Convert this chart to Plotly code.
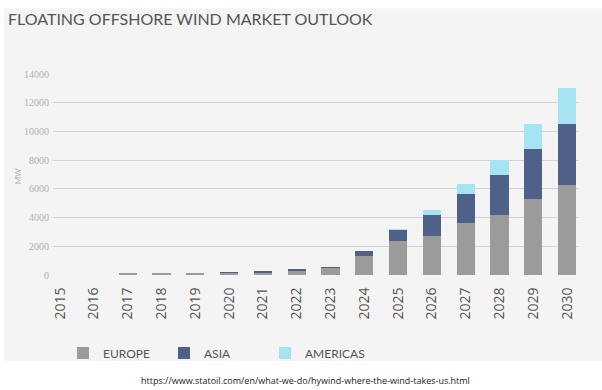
import plotly.graph_objects as go

years = [str(y) for y in range(2015, 2031)]
europe = [0, 0, 120, 120, 120, 170, 200, 300, 500, 1300, 2400, 2700, 3600, 4200, 5300, 6300]
asia = [0, 0, 0, 0, 0, 20, 90, 150, 50, 400, 750, 1450, 2050, 2800, 3500, 4200]
americas = [0, 0, 0, 0, 0, 0, 0, 0, 0, 0, 50, 400, 700, 1000, 1700, 2500]
y_ticks = [0, 2000, 4000, 6000, 8000, 10000, 12000, 14000]

BG = "#f4f4f4"
W, H = 602, 390
L, R, T, B = 53, 23, 74, 114.5
pw, ph = W - L - R, H - T - B

def px_x(x):
    return (x - L) / pw

def px_y(y):
    return (H - B - y) / ph

fig = go.Figure()
fig.add_bar(x=years, y=europe, name="EUROPE", marker=dict(color="#9b9b9b", line=dict(width=0)))
fig.add_bar(x=years, y=asia, name="ASIA", marker=dict(color="#4f6089", line=dict(width=0)))
fig.add_bar(x=years, y=americas, name="AMERICAS", marker=dict(color="#a6e4f4", line=dict(width=0)))

fig.update_layout(
    width=W, height=H,
    margin=dict(l=L, r=R, t=T, b=B, autoexpand=False),
    barmode="stack", bargap=0.46,
    paper_bgcolor="white", plot_bgcolor=BG,
    showlegend=True,
    legend=dict(orientation="h", xref="container", yref="container",
                x=63 / W, y=1 - 353 / H, xanchor="left", yanchor="middle",
                entrywidth=56, entrywidthmode="pixels", bgcolor="rgba(0,0,0,0)",
                font=dict(family="Lato", size=12, color="#555555"), itemwidth=30, traceorder="normal"),
    xaxis=dict(type="category", range=[-0.21, 15.35], tickangle=-90, showgrid=False,
               showline=False, zeroline=False, ticks="outside", ticklen=6, tickcolor="rgba(0,0,0,0)",
               tickfont=dict(family="Open Sans", size=14, color="#555555"), automargin=False),
    yaxis=dict(range=[0, 14000], tickvals=y_ticks, tickformat="d", showgrid=True, gridcolor="#d4d4d4",
               gridwidth=1.3, zeroline=False, showline=False, ticks="outside", ticklen=1,
               tickcolor="rgba(0,0,0,0)", automargin=False,
               tickfont=dict(family="Liberation Serif", size=10, color="#b0b0b0")),
    shapes=[dict(type="rect", xref="paper", yref="paper", x0=px_x(4), x1=px_x(602), y0=px_y(361.5), y1=px_y(8),
                 fillcolor=BG, line=dict(width=0), layer="below")],
    annotations=[
        dict(text="FLOATING OFFSHORE WIND MARKET OUTLOOK", xref="paper", yref="paper",
             x=px_x(6), y=px_y(18), xanchor="left", yanchor="middle", showarrow=False,
             font=dict(family="Lato", size=16, color="#555555")),
        dict(text="MW", xref="paper", yref="paper", x=px_x(17.5), y=px_y(177), textangle=-90,
             xanchor="center", yanchor="middle", showarrow=False,
             font=dict(family="Lato", size=8, color="#b0b0b0")),
        dict(text="https://www.statoil.com/en/what-we-do/hywind-where-the-wind-takes-us.html",
             xref="paper", yref="paper", x=px_x(305), y=px_y(381), xanchor="center", yanchor="middle",
             showarrow=False, font=dict(family="Open Sans", size=9, color="#222222")),
    ],
)

fig.write_html("out.html", config={"displayModeBar": False},
               post_script="document.body.style.margin='0';document.body.style.overflow='hidden';")
